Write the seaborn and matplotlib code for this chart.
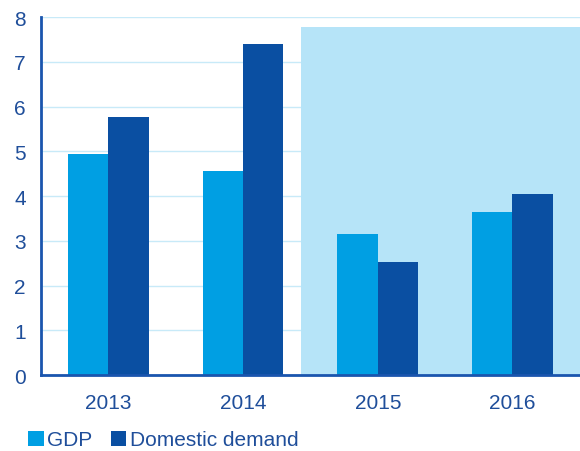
import matplotlib
matplotlib.use("Agg")
import matplotlib.pyplot as plt
import seaborn as sns
import pandas as pd
from matplotlib.patches import Patch

years = ["2013", "2014", "2015", "2016"]
gdp = [4.95, 4.56, 3.15, 3.64]
domestic = [5.77, 7.40, 2.53, 4.04]
series = ["GDP", "Domestic demand"]
colors = ["#009FE3", "#0A4FA2"]
shade_color = "#B6E4F8"
text_color = "#1F4E9A"
spine_color = "#1A55AE"
grid_color = "#C8EAF8"

df = pd.DataFrame({
    "year": years * 2,
    "value": gdp + domestic,
    "series": [series[0]] * 4 + [series[1]] * 4,
})

sns.set_style("white")
plt.rcParams["font.family"] = ["Liberation Sans", "DejaVu Sans"]

fig = plt.figure(figsize=(5.8, 4.52), dpi=100)
ax = fig.add_axes([0.0707, 0.168, 0.929, 0.792])

sns.barplot(data=df, x="year", y="value", hue="series", palette=colors,
            width=0.6, ax=ax, legend=False, saturation=1, zorder=3, linewidth=0)

ax.axvspan(1.433, 3.5, ymin=0, ymax=7.78 / 8, color=shade_color, zorder=2, lw=0)
ax.set_xlim(-0.5, 3.5)
ax.set_ylim(0, 8)
ax.set_yticks(range(0, 9))
ax.yaxis.grid(True, color=grid_color, lw=1, zorder=1)
ax.set_axisbelow(True)

ax.set_xticks([0, 1, 2, 3])
ax.set_xticklabels(years)
ax.set_xticks([-0.5, 0.5, 1.5, 2.5, 3.5], minor=True)
ax.tick_params(axis="x", which="major", length=0, pad=13, labelsize=15, labelcolor=text_color)
ax.tick_params(axis="x", which="minor", length=5, width=2, color=spine_color, direction="out")
ax.tick_params(axis="y", length=5, width=2, color=spine_color, direction="out",
               labelsize=15, labelcolor=text_color, pad=6)
ax.set_xlabel("")
ax.set_ylabel("")

for s in ["top", "right"]:
    ax.spines[s].set_visible(False)
for s in ["left", "bottom"]:
    ax.spines[s].set_color(spine_color)
    ax.spines[s].set_linewidth(2)
    ax.spines[s].set_zorder(5)

handles = [Patch(facecolor=c, edgecolor="none") for c in colors]
fig.legend(handles, series, loc="lower left", bbox_to_anchor=(0.016, -0.038), ncol=2,
           frameon=False, fontsize=15, labelcolor=text_color, handlelength=0.75,
           handleheight=0.75, handletextpad=0.15, columnspacing=0.9)

fig.savefig("out.png", dpi=100)
